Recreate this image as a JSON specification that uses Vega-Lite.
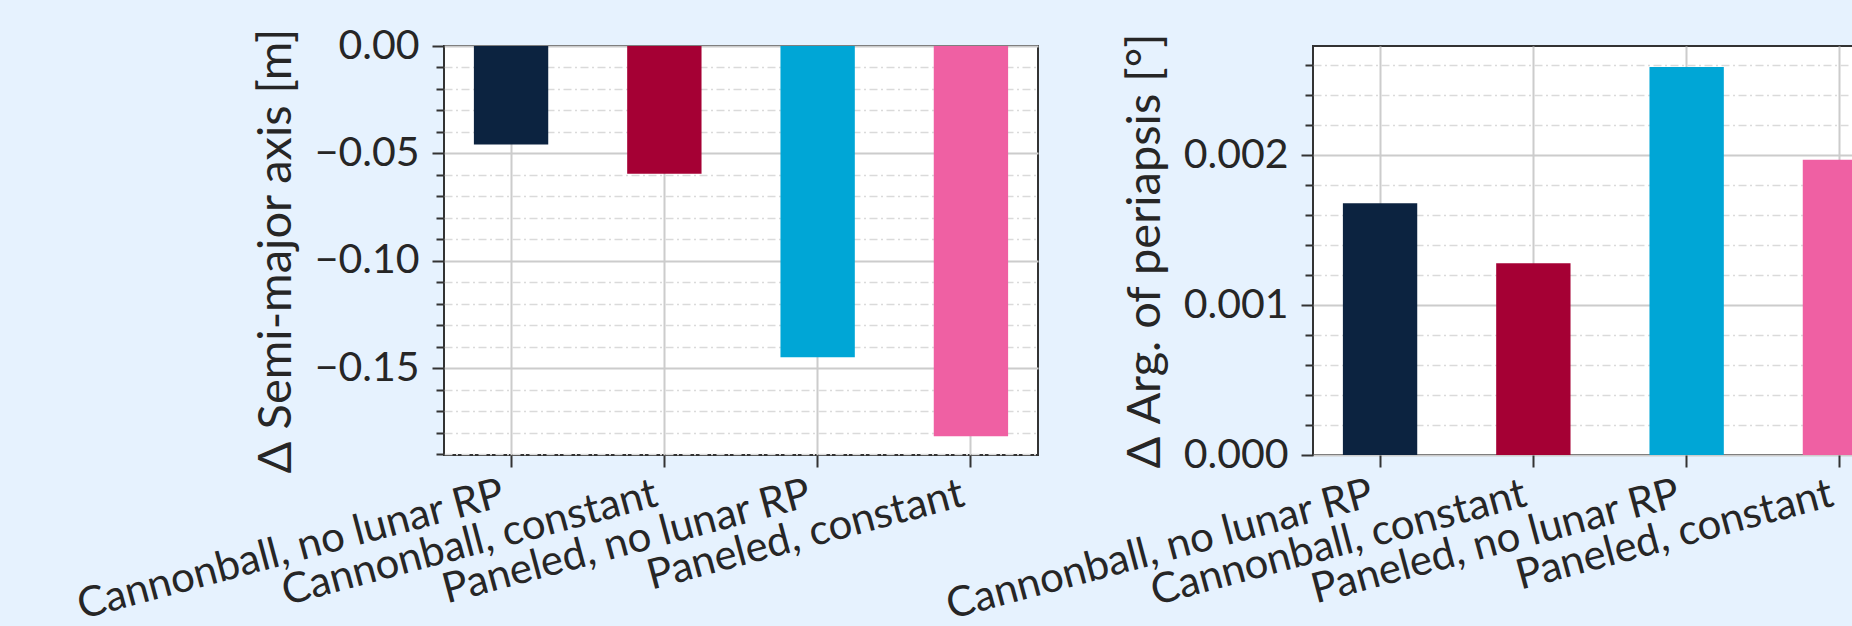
{
  "$schema": "https://vega.github.io/schema/vega-lite/v6.json",
  "background": "#E6F2FE",
  "padding": {"left": 70, "top": 24, "right": 0, "bottom": 0},
  "datasets": {
    "sma": [
      {"case": "Cannonball, no lunar RP", "value": -0.0458},
      {"case": "Cannonball, constant", "value": -0.0594},
      {"case": "Paneled, no lunar RP", "value": -0.1448},
      {"case": "Paneled, constant", "value": -0.1816}
    ],
    "argp": [
      {"case": "Cannonball, no lunar RP", "value": 0.00168},
      {"case": "Cannonball, constant", "value": 0.00128},
      {"case": "Paneled, no lunar RP", "value": 0.00259},
      {"case": "Paneled, constant", "value": 0.00197}
    ]
  },
  "spacing": 275,
  "bounds": "flush",
  "hconcat": [
    {
      "width": 594,
      "height": 409,
      "data": {"name": "sma"},
      "mark": {"type": "bar"},
      "encoding": {
        "x": {
          "field": "case", "type": "nominal", "sort": null,
          "scale": {"paddingInner": 0.515, "paddingOuter": 0.195},
          "axis": {"title": null, "grid": true}
        },
        "y": {
          "field": "value", "type": "quantitative",
          "scale": {"domain": [-0.1903, 0], "nice": false},
          "axis": {
            "title": "Δ Semi-major axis [m]",
            "values": [0, -0.01, -0.02, -0.03, -0.04, -0.05, -0.06, -0.07, -0.08, -0.09, -0.1, -0.11, -0.12, -0.13, -0.14, -0.15, -0.16, -0.17, -0.18, -0.19],
            "labelExpr": "round(datum.value*100) % 5 == 0 ? format(datum.value, '.2f') : ''",
            "tickSize": {"condition": {"test": "round(datum.value*100) % 5 == 0", "value": 12}, "value": 8},
            "gridDash": {"condition": {"test": "round(datum.value*100) % 5 == 0", "value": []}, "value": [8, 3.5, 2, 3.5]},
            "gridColor": {"condition": {"test": "round(datum.value*100) % 5 == 0", "value": "#cccccc"}, "value": "#dadada"},
            "gridWidth": {"condition": {"test": "round(datum.value*100) % 5 == 0", "value": 2}, "value": 1.5}
          }
        },
        "color": {
          "field": "case", "type": "nominal", "sort": null,
          "scale": {"domain": ["Cannonball, no lunar RP", "Cannonball, constant", "Paneled, no lunar RP", "Paneled, constant"], "range": ["#0C2340", "#A50034", "#00A6D6", "#EF60A3"]},
          "legend": null
        }
      }
    },
    {
      "width": 594,
      "height": 409,
      "data": {"name": "argp"},
      "mark": {"type": "bar"},
      "encoding": {
        "x": {
          "field": "case", "type": "nominal", "sort": null,
          "scale": {"paddingInner": 0.515, "paddingOuter": 0.195},
          "axis": {"title": null, "grid": true}
        },
        "y": {
          "field": "value", "type": "quantitative",
          "scale": {"domain": [0, 0.00273], "nice": false},
          "axis": {
            "title": "Δ Arg. of periapsis [°]",
            "values": [0, 0.0002, 0.0004, 0.0006, 0.0008, 0.001, 0.0012, 0.0014, 0.0016, 0.0018, 0.002, 0.0022, 0.0024, 0.0026],
            "labelExpr": "round(datum.value*10000) % 10 == 0 ? format(datum.value, '.3f') : ''",
            "tickSize": {"condition": {"test": "round(datum.value*10000) % 10 == 0", "value": 12}, "value": 8},
            "gridDash": {"condition": {"test": "round(datum.value*10000) % 10 == 0", "value": []}, "value": [8, 3.5, 2, 3.5]},
            "gridColor": {"condition": {"test": "round(datum.value*10000) % 10 == 0", "value": "#cccccc"}, "value": "#dadada"},
            "gridWidth": {"condition": {"test": "round(datum.value*10000) % 10 == 0", "value": 2}, "value": 1.5}
          }
        },
        "color": {
          "field": "case", "type": "nominal", "sort": null,
          "scale": {"domain": ["Cannonball, no lunar RP", "Cannonball, constant", "Paneled, no lunar RP", "Paneled, constant"], "range": ["#0C2340", "#A50034", "#00A6D6", "#EF60A3"]},
          "legend": null
        }
      }
    }
  ],
  "config": {
    "font": "Lato",
    "view": {"fill": "white", "stroke": "#333333", "strokeWidth": 2},
    "axis": {
      "domain": false,
      "labelFont": "Lato",
      "labelFontSize": 41,
      "labelColor": "#262626",
      "titleFont": "Lato",
      "titleFontSize": 47,
      "titleFontWeight": "normal",
      "titleColor": "#262626",
      "tickColor": "#333333",
      "tickWidth": 2,
      "gridColor": "#cccccc",
      "gridWidth": 2
    },
    "axisX": {
      "bandPosition": 0.5,
      "tickSize": 12,
      "labelFontSize": 42,
      "labelAngle": -15,
      "labelAlign": "right",
      "labelBaseline": "top",
      "labelPadding": 6,
      "labelOffset": -13,
      "labelOverlap": false,
      "labelLimit": 0
    },
    "axisY": {
      "labelPadding": 13,
      "titlePadding": 14
    }
  }
}
